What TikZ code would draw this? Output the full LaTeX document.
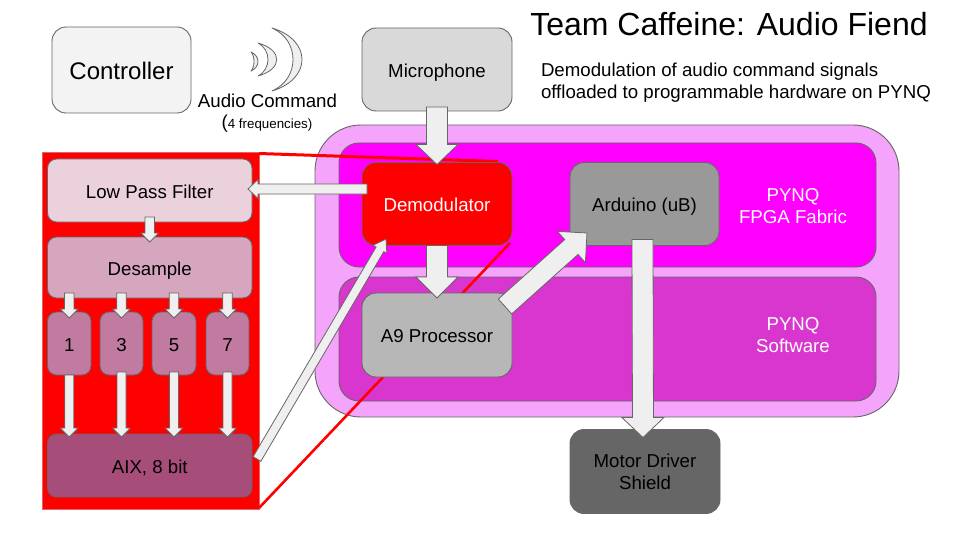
\documentclass[tikz,border=0pt]{standalone}
\usepackage{fontspec}
\setmainfont{Liberation Sans}
\usetikzlibrary{calc}
\definecolor{edgegray}{HTML}{666666}
\definecolor{arrowfill}{HTML}{EFEFEF}
\definecolor{outerpink}{HTML}{F4A4FA}
\definecolor{fabricmag}{HTML}{FF00FF}
\definecolor{softmag}{HTML}{D936CF}
\definecolor{redpale}{HTML}{E06666}
\definecolor{ctrlfill}{HTML}{F3F3F3}
\definecolor{micfill}{HTML}{D9D9D9}
\definecolor{a9fill}{HTML}{B7B7B7}
\definecolor{ardfill}{HTML}{999999}
\definecolor{lpffill}{HTML}{EAD1DC}
\definecolor{desfill}{HTML}{D5A6BD}
\definecolor{numfill}{HTML}{C27BA0}
\definecolor{aixfill}{HTML}{A64D79}
\tikzset{
  box/.style={draw=edgegray,line width=0.9pt,rounded corners=14pt,inner sep=0pt,outer sep=0pt,align=center,font=\fontsize{18.67}{22}\selectfont},
  oneline/.style={text height=15.4pt,text depth=0pt},
  smallbox/.style={box,oneline,rounded corners=9pt},
  panel/.style={box,rounded corners=20pt},
  label/.style={inner sep=0pt,outer sep=0pt,align=center,font=\fontsize{18.67}{22}\selectfont},
  blockarr/.style={draw=edgegray,line width=0.8pt,fill=arrowfill,line join=miter},
  moon/.style={draw=edgegray,line width=0.8pt,fill=arrowfill,line join=round},
  zoomline/.style={draw=red,line width=2.6pt}
}
% from, to, shaft half width, head half width, head length
\newcommand\blockarrow[5]{%
  \path #1 coordinate (ba-s);
  \path #2 coordinate (ba-e);
  \coordinate (ba-b) at ($(ba-e)!#5!(ba-s)$);
  \draw[blockarr] ($(ba-s)!#3!90:(ba-e)$) -- ($(ba-b)!#3!-90:(ba-s)$) -- ($(ba-b)!#4!-90:(ba-s)$) -- (ba-e) -- ($(ba-b)!#4!90:(ba-s)$) -- ($(ba-b)!#3!90:(ba-s)$) -- ($(ba-s)!#3!-90:(ba-e)$) -- cycle;
}
\begin{document}
\begin{tikzpicture}[x=1pt,y=-1pt]
\useasboundingbox (0,0) rectangle (960,540);
\fill[white] (0,0) rectangle (960,540);
% panels
\node[box,rounded corners=46pt,fill=outerpink,minimum width=584pt,minimum height=292pt] (outer) at (607,271) {};
\node[panel,fill=fabricmag,minimum width=537pt,minimum height=124pt] (fabric) at (607.5,205) {};
\node[panel,fill=softmag,minimum width=537pt,minimum height=124pt] (soft) at (607.5,339) {};
% red block
\node[draw=redpale,line width=0.8pt,fill=red,inner sep=0pt,outer sep=0pt,minimum width=217pt,minimum height=357pt] (redblock) at (150.5,330.5) {};
% zoom lines
\coordinate (zt) at (498,160);
\coordinate (zb) at (510,243);
\fill[red] (redblock.north east) -- (zt) -- ([yshift=-3pt]zt) -- ([yshift=-3pt]redblock.north east) -- cycle;
\draw[zoomline] ([yshift=1pt]redblock.south east) -- (zb);
% top row
\node[box,oneline,fill=ctrlfill,minimum width=139pt,minimum height=86pt,font=\fontsize{24}{28}\selectfont,text height=18.7pt] (ctrl) at (121.5,70) {Controller};
\node[box,oneline,fill=micfill,minimum width=150pt,minimum height=83pt] (mic) at (437,69.5) {Microphone};
% sound icon
\draw[moon] (272,28) .. controls (312,40) and (312,79) .. (272,91) .. controls (300,79) and (300,40) .. cycle;
\draw[moon] (258,43) .. controls (283,50) and (283,69) .. (258,76) .. controls (271.3,69) and (271.3,50) .. cycle;
\draw[moon] (251,52) .. controls (260.3,56) and (260.3,67) .. (251,71) .. controls (255,67) and (255,56) .. cycle;
% main blocks
\node[box,oneline,fill=red,text=white,minimum width=150pt,minimum height=83pt] (demod) at (437,204) {Demodulator};
\node[box,oneline,fill=a9fill,minimum width=150pt,minimum height=84pt] (a9) at (437,335) {A9 Processor};
\node[box,oneline,fill=ardfill,minimum width=149pt,minimum height=83pt] (ard) at (644.5,204) {Arduino (uB)};
\node[box,fill=edgegray,minimum width=150pt,minimum height=84pt] (motor) at (645,471.5) {Motor Driver\\Shield};
% red block contents
\node[smallbox,fill=lpffill,minimum width=204.5pt,minimum height=63pt] (lpf) at (149.75,190.5) {Low Pass Filter};
\node[smallbox,fill=desfill,minimum width=204.5pt,minimum height=61pt] (desample) at (149.75,267.5) {Desample};
\node[smallbox,fill=numfill,minimum width=43.5pt,minimum height=63pt] (b1) at (69.25,343.5) {1};
\node[smallbox,fill=numfill,minimum width=43pt,minimum height=63pt] (b3) at (121.5,343.5) {3};
\node[smallbox,fill=numfill,minimum width=44pt,minimum height=63pt] (b5) at (174,343.5) {5};
\node[smallbox,fill=numfill,minimum width=43pt,minimum height=63pt] (b7) at (227.5,343.5) {7};
\node[smallbox,fill=aixfill,minimum width=204.5pt,minimum height=63pt] (aix) at (149.75,465.5) {AIX, 8 bit};
% texts
\node[label,font=\fontsize{32}{36}\selectfont] (title) at (729,24) {Team Caffeine: Audio Fiend};
\node[label,align=left,anchor=west] (subtitle) at (541,83) {Demodulation of audio command signals\\offloaded to programmable hardware on PYNQ};
\node[label] (audio) at (267.5,101) {Audio Command};
\node[label] (freq) at (267,124) {(\fontsize{13.33}{16}\selectfont 4 frequencies)};
\node[label,text=white] (fabtext) at (793,206) {PYNQ\\FPGA Fabric};
\node[label,text=white] (softtext) at (793,335) {PYNQ\\Software};
% connectors
\blockarrow{([yshift=4pt]mic.south)}{([yshift=-2pt]demod.north)}{10.5pt}{21pt}{20pt}
\blockarrow{([shift={(5pt,15pt)}]demod.west)}{([shift={(-4pt,1.5pt)}]lpf.east)}{5pt}{9.5pt}{10pt}
\blockarrow{([yshift=5pt]lpf.south)}{([yshift=-5pt]desample.north)}{4.7pt}{9pt}{9pt}
\blockarrow{([yshift=5pt]desample.south -| b1.south)}{([yshift=-6pt]b1.north)}{4.7pt}{9pt}{9pt}
\blockarrow{([yshift=5pt]desample.south -| b3.south)}{([yshift=-6pt]b3.north)}{4.7pt}{9pt}{9pt}
\blockarrow{([yshift=5pt]desample.south -| b5.south)}{([yshift=-6pt]b5.north)}{4.7pt}{9pt}{9pt}
\blockarrow{([yshift=5pt]desample.south -| b7.south)}{([yshift=-6pt]b7.north)}{4.7pt}{9pt}{9pt}
\blockarrow{(b1.south)}{([yshift=-3pt]aix.north -| b1.south)}{4.5pt}{9pt}{9pt}
\blockarrow{([yshift=3pt]b3.south)}{([yshift=-3pt]aix.north -| b3.south)}{4.5pt}{9pt}{9pt}
\blockarrow{([yshift=3pt]b5.south)}{([yshift=-3pt]aix.north -| b5.south)}{4.5pt}{9pt}{9pt}
\blockarrow{([yshift=3pt]b7.south)}{([yshift=-3pt]aix.north -| b7.south)}{4.5pt}{9pt}{9pt}
\blockarrow{([shift={(5pt,6.5pt)}]aix.east)}{([shift={(-126pt,6.5pt)}]demod.south east)}{4.5pt}{8pt}{12pt}
\blockarrow{([yshift=0pt]demod.south)}{([yshift=-5pt]a9.north)}{10.5pt}{21pt}{21pt}
\blockarrow{([shift={(-7pt,-13.5pt)}]a9.north east)}{([shift={(-132pt,12.5pt)}]ard.south east)}{10pt}{21pt}{21pt}
\blockarrow{([xshift=-2pt,yshift=6pt]ard.south)}{([xshift=-2pt,yshift=-8pt]motor.north)}{10.5pt}{21pt}{20pt}
\end{tikzpicture}
\end{document}
